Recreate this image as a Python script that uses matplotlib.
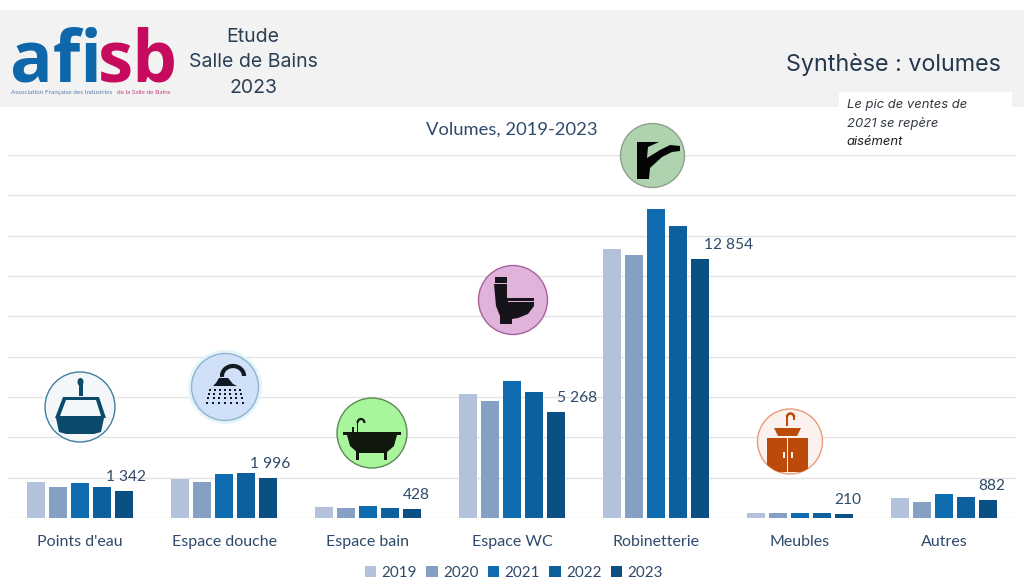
import numpy as np
import matplotlib
matplotlib.use("Agg")
import matplotlib.pyplot as plt
from matplotlib.patches import Circle, Rectangle, Polygon, Arc, Ellipse

# donnees (volumes)
categories = ["Points d'eau", "Espace douche", "Espace bain", "Espace WC", "Robinetterie", "Meubles", "Autres"]
years = ["2019", "2020", "2021", "2022", "2023"]
v2019 = [1800, 1950, 560, 6150, 13350, 250, 990]
v2020 = [1540, 1790, 510, 5800, 13020, 250, 810]
v2021 = [1720, 2180, 600, 6800, 15320, 235, 1190]
v2022 = [1520, 2250, 490, 6250, 14500, 230, 1060]
v2023 = [1342, 1996, 428, 5268, 12854, 210, 882]
labels_2023 = ["1 342", "1 996", "428", "5 268", "12 854", "210", "882"]
label_dx = [2, 2, 4, 21, 28, 4, 4]
colors = ["#b4c1da", "#86a0c5", "#0f6cb0", "#0d5f9d", "#0a5085"]
text_col = "#2f4a6b"

plt.rcParams["font.family"] = ["Lato", "DejaVu Sans"]
fig = plt.figure(figsize=(10.24, 5.87), dpi=100)

# fond et bandeau, en pixels
bg = fig.add_axes([0, 0, 1, 1], zorder=0)
bg.set_xlim(0, 1024)
bg.set_ylim(587, 0)
bg.axis("off")
bg.add_patch(Rectangle((0, 10), 1024, 97, fc="#f2f2f2", ec="none"))

# graphique
ax = fig.add_axes([8 / 1024, 1 - 518 / 587, 1008 / 1024, 363 / 587], zorder=1)
ax.patch.set_alpha(0)
x = np.arange(len(categories))
pitch = 0.1535
series = [v2019, v2020, v2021, v2022, v2023]
for i, vals in enumerate(series):
    ax.bar(x + (i - 2) * pitch, vals, width=0.123, color=colors[i], label=years[i], zorder=3)
for i, lab in enumerate(labels_2023):
    ax.annotate(lab, (x[i] + 2 * pitch, v2023[i]), xytext=(label_dx[i] * 0.72, 5), textcoords="offset points",
                ha="center", va="bottom", fontsize=11.2, color=text_col, zorder=4)
ax.set_xlim(-0.5, 6.5)
ax.set_ylim(0, 18000)
ax.set_yticks(np.arange(0, 18001, 2000))
ax.set_yticklabels([])
ax.set_xticks(x)
ax.set_xticklabels(categories, fontsize=11.5, color=text_col)
ax.tick_params(axis="both", length=0)
ax.tick_params(axis="x", pad=12)
ax.grid(axis="y", color="#e4e4e4", lw=1, zorder=0)
ax.set_axisbelow(True)
for s in ax.spines.values():
    s.set_visible(False)
ax.legend(loc="upper center", bbox_to_anchor=(0.502, -0.131), ncol=5, frameon=False, fontsize=11,
          labelcolor=text_col, handlelength=0.75, handleheight=0.75, handletextpad=0.35, columnspacing=0.6,
          borderpad=0, borderaxespad=0)
ax.text(0.5, 1.07, "Volumes, 2019-2023", transform=ax.transAxes, ha="center", va="center",
        fontsize=13.2, color=text_col)

# couche du haut : textes du bandeau, logo, icones
top = fig.add_axes([0, 0, 1, 1], zorder=2)
top.set_xlim(0, 1024)
top.set_ylim(587, 0)
top.axis("off")
top.patch.set_alpha(0)

for y, t in zip([37, 62, 88], ["Etude", "Salle de Bains", "2023"]):
    top.text(253, y, t, ha="center", va="center", fontsize=14, color="#2b3f55", family=["Inter", "DejaVu Sans"])
top.text(893, 65, "Synthèse : volumes", ha="center", va="center", fontsize=16.8, color="#24384d",
         family=["Inter", "DejaVu Sans"])
top.add_patch(Rectangle((839, 92), 173, 60, fc="white", ec="none"))
for y, t, col in zip([105, 124, 142], ["Le pic de ventes de", "2021 se repère", "aisément"],
                     ["#333a44", "#333a44", "#1c1f24"]):
    top.text(847, y, t, ha="left", va="center", fontsize=9.4, style="italic", color=col,
             family=["Inter", "DejaVu Sans"])

# logo
top.text(10, 81, "afi", ha="left", va="baseline", fontsize=51, fontweight="bold", color="#0f67ab",
         family=["Open Sans", "DejaVu Sans"])
top.text(98, 81, "sb", ha="left", va="baseline", fontsize=51, fontweight="bold", color="#c60b5f",
         family=["Open Sans", "DejaVu Sans"])
top.text(11, 92.5, "Association Française des Industries", ha="left", va="center", fontsize=4.6, color="#5b7fb0")
top.text(117, 92.5, "de la Salle de Bains", ha="left", va="center", fontsize=4.6, color="#c9407f")


def disc(cx, cy, r, fc, ec):
    c = Circle((cx, cy), r, fc=fc, ec=ec, lw=1, zorder=5)
    top.add_patch(c)
    return c


def poly(pts, fc, z=6):
    p = Polygon(pts, closed=True, fc=fc, ec="none", zorder=z)
    top.add_patch(p)
    return p


def rect(x0, y0, w, h, fc, z=6):
    r = Rectangle((x0, y0), w, h, fc=fc, ec="none", zorder=z)
    top.add_patch(r)
    return r


# Points d'eau
disc(80, 407, 35, "#f3f7f9", "#3f7f9e")
c = "#0b4a6b"
rect(78.5, 381, 4, 15, c)
top.add_patch(Ellipse((80.5, 382), 6, 8, fc=c, ec="none", zorder=6))
poly([(63, 397), (99, 397), (106, 418), (55, 418)], c)
poly([(66, 400), (96, 400), (101, 416), (60, 416)], "#f3f7f9")
poly([(56, 418), (104, 418), (101, 432), (94, 434), (66, 434), (59, 432)], c)

# Espace douche
top.add_patch(Circle((225, 387), 37, fc="#e4f4fb", ec="none", zorder=4))
disc(225, 387, 33.5, "#cfe0f8", "#8fb4cc")
c = "#111a22"
top.add_patch(Arc((233, 376), 22, 20, theta1=175, theta2=360, ec=c, lw=3, zorder=6))
poly([(219, 378), (228, 378), (233, 384), (237, 386), (213, 386), (216, 383)], c)
for row, yy in enumerate([389, 393, 397, 402]):
    for dx in [209, 214, 219, 224, 229, 234, 239]:
        rect(dx + (dx - 224) * row * 0.06, yy, 2, 2.2, c)

# Espace bain
disc(372, 433, 35, "#a8f59b", "#5d8a55")
c = "#10180e"
rect(343, 432, 58, 2.5, c)
poly([(347, 435), (397, 435), (394, 446), (386, 453), (358, 453), (350, 446)], c)
rect(356, 451, 3, 9, c)
rect(384, 451, 3, 9, c)
top.add_patch(Arc((361, 423), 7, 8, theta1=180, theta2=360, ec=c, lw=1.6, zorder=6))
rect(356.7, 423, 1.6, 9, c)
rect(352, 427, 2, 5, c)

# Espace WC
disc(513, 300, 34.5, "#e0b3db", "#a8609f")
c = "#17131a"
rect(495, 277, 12, 6, c)
poly([(494, 284), (507, 284), (507, 298), (534, 298), (534, 306), (528, 314), (518, 318), (512, 319),
      (512, 324), (500, 324), (500, 316), (496, 306)], c)
rect(508, 301, 26, 1.2, "#e0b3db", z=7)

# Robinetterie
disc(652.5, 155.5, 32, "#aed3ae", "#8f9f8f")
c = "#050505"
poly([(637, 142), (659, 142), (648, 147), (647, 158), (660, 150), (670, 145), (680, 146), (680, 151),
      (672, 152), (662, 157), (650, 168), (649, 179), (637, 179)], c)

# Meubles
m = disc(790, 441.5, 32.5, "#fbf2ef", "#ec9a78")
c = "#bc4a09"
poly([(774, 428), (801, 428), (797, 436), (778, 436)], c)
rect(767, 438, 20, 34, c).set_clip_path(m)
rect(788, 438, 20, 34, c).set_clip_path(m)
rect(783, 452, 2, 6, "#fbf2ef", z=7)
rect(790.5, 452, 2, 6, "#fbf2ef", z=7)
top.add_patch(Arc((790.5, 417), 7, 7, theta1=180, theta2=360, ec=c, lw=1.8, zorder=6))
rect(786.2, 417, 1.8, 9, c)
rect(793.2, 417, 1.6, 3, c)

fig.savefig("out.png", dpi=100)
